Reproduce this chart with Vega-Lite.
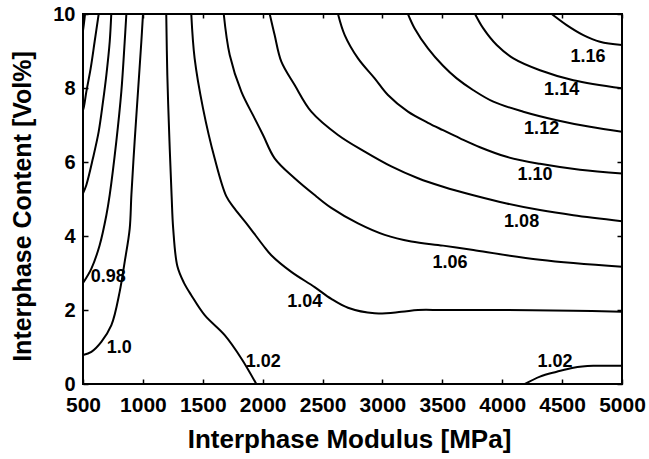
{
  "$schema": "https://vega.github.io/schema/vega-lite/v6.json",
  "width": 539,
  "height": 370,
  "autosize": {"type": "none"},
  "padding": {"left": 83, "top": 14, "right": 27, "bottom": 75},
  "background": "white",
  "config": {"view": {"stroke": "black", "strokeWidth": 2}, "font": "Liberation Sans"},
  "datasets": {
    "lines": [
      {"c":"Z","i":0,"x":500,"y":9.55},{"c":"Z","i":1,"x":510,"y":9.8},{"c":"Z","i":2,"x":517,"y":10},
      {"c":"A","i":0,"x":631,"y":10},{"c":"A","i":1,"x":597,"y":9.25},{"c":"A","i":2,"x":564,"y":8.53},{"c":"A","i":3,"x":528,"y":7.9},{"c":"A","i":4,"x":508,"y":7.5},{"c":"A","i":5,"x":500,"y":7.4},
      {"c":"B","i":0,"x":736,"y":10},{"c":"B","i":1,"x":723,"y":9.25},{"c":"B","i":2,"x":695,"y":8.35},{"c":"B","i":3,"x":667,"y":7.63},{"c":"B","i":4,"x":631,"y":6.82},{"c":"B","i":5,"x":583,"y":6.1},{"c":"B","i":6,"x":528,"y":5.38},{"c":"B","i":7,"x":500,"y":5.15},
      {"c":"C","i":0,"x":862,"y":10},{"c":"C","i":1,"x":848,"y":9.25},{"c":"C","i":2,"x":820,"y":7.9},{"c":"C","i":3,"x":778,"y":6.55},{"c":"C","i":4,"x":723,"y":5.11},{"c":"C","i":5,"x":695,"y":4.56},{"c":"C","i":6,"x":639,"y":3.75},{"c":"C","i":7,"x":570,"y":3.12},{"c":"C","i":8,"x":500,"y":2.73},
      {"c":"D","i":0,"x":1001,"y":10},{"c":"D","i":1,"x":987,"y":9.25},{"c":"D","i":2,"x":959,"y":7.9},{"c":"D","i":3,"x":931,"y":6.55},{"c":"D","i":4,"x":904,"y":5.11},{"c":"D","i":5,"x":890,"y":4.2},{"c":"D","i":6,"x":848,"y":3.3},{"c":"D","i":7,"x":806,"y":2.49},{"c":"D","i":8,"x":737,"y":1.59},{"c":"D","i":9,"x":653,"y":1.14},{"c":"D","i":10,"x":570,"y":0.87},{"c":"D","i":11,"x":500,"y":0.78},
      {"c":"E","i":0,"x":1195,"y":10},{"c":"E","i":1,"x":1204,"y":8.35},{"c":"E","i":2,"x":1222,"y":6.55},{"c":"E","i":3,"x":1240,"y":5.07},{"c":"E","i":4,"x":1253,"y":4.2},{"c":"E","i":5,"x":1288,"y":3.18},{"c":"E","i":6,"x":1342,"y":2.74},{"c":"E","i":7,"x":1404,"y":2.4},{"c":"E","i":8,"x":1516,"y":1.86},{"c":"E","i":9,"x":1683,"y":1.32},{"c":"E","i":10,"x":1822,"y":0.69},{"c":"E","i":11,"x":1947,"y":0},
      {"c":"F","i":0,"x":1404,"y":10},{"c":"F","i":1,"x":1432,"y":8.8},{"c":"F","i":2,"x":1502,"y":7.45},{"c":"F","i":3,"x":1599,"y":6.1},{"c":"F","i":4,"x":1697,"y":5.07},{"c":"F","i":5,"x":1766,"y":4.74},{"c":"F","i":6,"x":1877,"y":4.29},{"c":"F","i":7,"x":2003,"y":3.75},{"c":"F","i":8,"x":2072,"y":3.48},{"c":"F","i":9,"x":2239,"y":3.03},{"c":"F","i":10,"x":2434,"y":2.62},{"c":"F","i":11,"x":2573,"y":2.3},{"c":"F","i":12,"x":2712,"y":2.06},{"c":"F","i":13,"x":2935,"y":1.91},{"c":"F","i":14,"x":3158,"y":1.95},{"c":"F","i":15,"x":3297,"y":2.0},{"c":"F","i":16,"x":3506,"y":2.0},{"c":"F","i":17,"x":4037,"y":2.0},{"c":"F","i":18,"x":4594,"y":1.98},{"c":"F","i":19,"x":5000,"y":1.95},
      {"c":"G","i":0,"x":1675,"y":10},{"c":"G","i":1,"x":1725,"y":8.89},{"c":"G","i":2,"x":1822,"y":7.9},{"c":"G","i":3,"x":1933,"y":7.18},{"c":"G","i":4,"x":2003,"y":6.73},{"c":"G","i":5,"x":2100,"y":6.1},{"c":"G","i":6,"x":2267,"y":5.56},{"c":"G","i":7,"x":2448,"y":5.07},{"c":"G","i":8,"x":2573,"y":4.76},{"c":"G","i":9,"x":2796,"y":4.34},{"c":"G","i":10,"x":3019,"y":4.03},{"c":"G","i":11,"x":3241,"y":3.85},{"c":"G","i":12,"x":3506,"y":3.74},{"c":"G","i":13,"x":3759,"y":3.62},{"c":"G","i":14,"x":4037,"y":3.48},{"c":"G","i":15,"x":4315,"y":3.36},{"c":"G","i":16,"x":4594,"y":3.27},{"c":"G","i":17,"x":5000,"y":3.17},
      {"c":"H","i":0,"x":2059,"y":10},{"c":"H","i":1,"x":2100,"y":9.43},{"c":"H","i":2,"x":2156,"y":8.71},{"c":"H","i":3,"x":2267,"y":8.08},{"c":"H","i":4,"x":2406,"y":7.36},{"c":"H","i":5,"x":2629,"y":6.73},{"c":"H","i":6,"x":2852,"y":6.28},{"c":"H","i":7,"x":3074,"y":5.88},{"c":"H","i":8,"x":3297,"y":5.56},{"c":"H","i":9,"x":3506,"y":5.33},{"c":"H","i":10,"x":3759,"y":5.1},{"c":"H","i":11,"x":4037,"y":4.88},{"c":"H","i":12,"x":4315,"y":4.7},{"c":"H","i":13,"x":4594,"y":4.56},{"c":"H","i":14,"x":5000,"y":4.4},
      {"c":"I","i":0,"x":2629,"y":10},{"c":"I","i":1,"x":2685,"y":9.43},{"c":"I","i":2,"x":2796,"y":8.8},{"c":"I","i":3,"x":2935,"y":8.26},{"c":"I","i":4,"x":3046,"y":7.81},{"c":"I","i":5,"x":3213,"y":7.36},{"c":"I","i":6,"x":3380,"y":7.06},{"c":"I","i":7,"x":3506,"y":6.86},{"c":"I","i":8,"x":3648,"y":6.64},{"c":"I","i":9,"x":3814,"y":6.4},{"c":"I","i":10,"x":4037,"y":6.14},{"c":"I","i":11,"x":4315,"y":5.95},{"c":"I","i":12,"x":4649,"y":5.79},{"c":"I","i":13,"x":5000,"y":5.69},
      {"c":"J","i":0,"x":3213,"y":10},{"c":"J","i":1,"x":3269,"y":9.61},{"c":"J","i":2,"x":3380,"y":9.07},{"c":"J","i":3,"x":3506,"y":8.6},{"c":"J","i":4,"x":3620,"y":8.26},{"c":"J","i":5,"x":3759,"y":7.94},{"c":"J","i":6,"x":3926,"y":7.63},{"c":"J","i":7,"x":4176,"y":7.36},{"c":"J","i":8,"x":4455,"y":7.13},{"c":"J","i":9,"x":4733,"y":6.95},{"c":"J","i":10,"x":5000,"y":6.82},
      {"c":"K","i":0,"x":3773,"y":10},{"c":"K","i":1,"x":3842,"y":9.61},{"c":"K","i":2,"x":3954,"y":9.16},{"c":"K","i":3,"x":4093,"y":8.8},{"c":"K","i":4,"x":4315,"y":8.48},{"c":"K","i":5,"x":4594,"y":8.21},{"c":"K","i":6,"x":5000,"y":7.99},
      {"c":"L","i":0,"x":4413,"y":10},{"c":"L","i":1,"x":4538,"y":9.7},{"c":"L","i":2,"x":4677,"y":9.43},{"c":"L","i":3,"x":4816,"y":9.25},{"c":"L","i":4,"x":5000,"y":9.16},
      {"c":"M","i":0,"x":4190,"y":0},{"c":"M","i":1,"x":4315,"y":0.2},{"c":"M","i":2,"x":4455,"y":0.33},{"c":"M","i":3,"x":4594,"y":0.44},{"c":"M","i":4,"x":4761,"y":0.49},{"c":"M","i":5,"x":5000,"y":0.49}
    ],
    "labels": [
      {"label":"1.16","x":4716,"y":8.83},
      {"label":"1.14","x":4496,"y":7.95},
      {"label":"1.12","x":4329,"y":6.9},
      {"label":"1.10","x":4274,"y":5.64},
      {"label":"1.08","x":4162,"y":4.38},
      {"label":"1.06","x":3564,"y":3.27},
      {"label":"1.04","x":2351,"y":2.22},
      {"label":"1.02","x":2005,"y":0.6},
      {"label":"1.02","x":4440,"y":0.6},
      {"label":"0.98","x":711,"y":2.88},
      {"label":"1.0","x":803,"y":0.96}
    ]
  },
  "layer": [
    {
      "data": {"name": "lines"},
      "mark": {"type": "line", "color": "black", "strokeWidth": 2, "interpolate": "catmull-rom", "clip": true},
      "encoding": {
        "x": {"field": "x", "type": "quantitative", "scale": {"domain": [500, 5000], "nice": false, "zero": false},
          "axis": {"orient": "bottom", "values": [500,1000,1500,2000,2500,3000,3500,4000,4500,5000], "format": "d", "grid": false, "domain": false,
            "tickSize": -5, "tickWidth": 1.5, "tickColor": "black", "labelFont": "Liberation Sans", "labelFontSize": 21, "labelFontWeight": "bold", "labelColor": "black", "labelPadding": 15, "labelFlush": false,
            "title": "Interphase Modulus [MPa]", "titleFont": "Liberation Sans", "titleFontSize": 26, "titleFontWeight": "bold", "titleColor": "black", "titleX": 266, "titleY": 63, "titleBaseline": "alphabetic", "titleAlign": "center"}},
        "y": {"field": "y", "type": "quantitative", "scale": {"domain": [0, 10], "nice": false, "zero": false},
          "axis": {"orient": "left", "values": [0,2,4,6,8,10], "format": "d", "grid": false, "domain": false,
            "tickSize": -5, "tickWidth": 1.5, "tickColor": "black", "labelFont": "Liberation Sans", "labelFontSize": 20, "labelFontWeight": "bold", "labelColor": "black", "labelPadding": 13, "labelFlush": false,
            "title": "Interphase Content [Vol%]", "titleFont": "Liberation Sans", "titleFontSize": 25, "titleFontWeight": "bold", "titleColor": "black", "titleX": -53, "titleY": 192, "titleBaseline": "alphabetic", "titleAngle": -90, "titleAlign": "center"}},
        "detail": {"field": "c"},
        "order": {"field": "i", "type": "quantitative"}
      }
    },
    {
      "data": {"name": "labels"},
      "mark": {"type": "text", "font": "Liberation Sans", "fontSize": 18, "fontWeight": "bold", "color": "black", "align": "center", "baseline": "middle"},
      "encoding": {
        "x": {"field": "x", "type": "quantitative", "scale": {"domain": [500, 5000], "nice": false, "zero": false},
          "axis": {"orient": "top", "values": [500,1000,1500,2000,2500,3000,3500,4000,4500,5000], "grid": false, "domain": false, "labels": false, "title": null, "tickSize": -4, "tickWidth": 1.5, "tickColor": "black"}},
        "y": {"field": "y", "type": "quantitative", "scale": {"domain": [0, 10], "nice": false, "zero": false},
          "axis": {"orient": "right", "values": [0,2,4,6,8,10], "grid": false, "domain": false, "labels": false, "title": null, "tickSize": -5, "tickWidth": 1.5, "tickColor": "black"}},
        "text": {"field": "label"}
      }
    }
  ],
  "resolve": {"axis": {"x": "independent", "y": "independent"}}
}
